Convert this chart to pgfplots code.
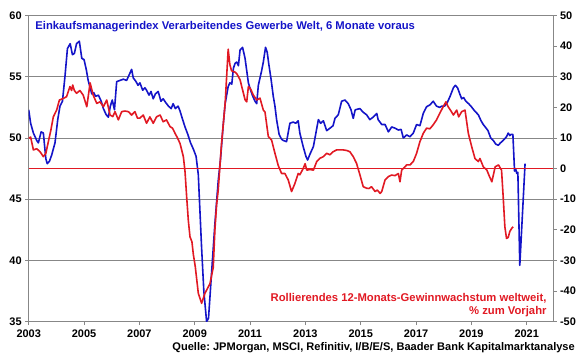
\documentclass[border=0pt]{standalone}
\usepackage{pgfplots}
\pgfplotsset{compat=1.18}
\usepackage{fontspec}
\setmainfont{Liberation Sans}
\frenchspacing
\definecolor{pmiblue}{RGB}{20,20,200}
\definecolor{epsred}{RGB}{225,25,35}
\definecolor{gridgray}{RGB}{135,135,135}
\begin{document}
\begin{tikzpicture}
\pgfplotsset{
  every axis/.append style={
    scale only axis, width=524.3bp, height=306.2bp,
    xmin=2003, xmax=2021.95,
    tick align=outside, major tick length=3.5bp,
    ticklabel style={font=\bfseries\fontsize{11}{13}\selectfont},
    /pgf/number format/assume math mode=true,
    /pgf/number format/1000 sep={},
    axis line style={gridgray, line width=0.8bp},
    tick style={gridgray, line width=0.8bp},
  }
}
\begin{axis}[
  ymin=35, ymax=60, ytick={35,40,...,60},
  xtick={2003,2005,...,2021},
  xtick pos=bottom, ytick pos=left,
  ymajorgrids, grid style={gridgray, line width=0.8bp},
  x axis line style={black!70},
  xticklabel style={yshift=-1.5bp},
]
\addplot[pmiblue, line width=1.6bp, line join=round, mark=none] coordinates {
(2003.00,52.3) (2003.07,51.2) (2003.17,50.4) (2003.29,49.8) (2003.35,49.6) (2003.45,50.5) (2003.53,50.4) (2003.62,48.3) (2003.67,47.9) (2003.75,48.1) (2003.83,48.6) (2003.95,49.6)
(2004.05,51.5) (2004.13,52.6) (2004.22,53.0) (2004.31,55.0) (2004.40,57.3) (2004.50,57.7) (2004.58,56.8) (2004.65,56.9) (2004.73,57.7) (2004.83,57.9) (2004.92,56.5)
(2005.00,56.4) (2005.08,55.6) (2005.15,54.7) (2005.28,53.6) (2005.35,53.7) (2005.42,53.4) (2005.52,53.5) (2005.62,53.0) (2005.70,52.4) (2005.80,51.9) (2005.88,51.7) (2005.95,52.6)
(2006.02,53.1) (2006.10,52.3) (2006.18,54.6) (2006.30,54.7) (2006.42,54.8) (2006.54,54.7) (2006.62,55.1) (2006.72,55.6) (2006.78,54.9) (2006.88,54.6) (2006.95,54.3)
(2007.02,54.5) (2007.12,53.9) (2007.20,54.1) (2007.26,53.9) (2007.35,53.5) (2007.42,53.8) (2007.50,53.2) (2007.58,53.6) (2007.68,53.8) (2007.78,53.0) (2007.86,53.2) (2007.95,52.9)
(2008.05,52.6) (2008.15,52.4) (2008.22,52.8) (2008.30,52.4) (2008.40,52.6) (2008.47,52.2) (2008.55,51.6) (2008.65,50.9) (2008.75,50.3) (2008.85,49.6) (2008.95,49.1)
(2009.05,48.5) (2009.13,47.0) (2009.25,41.0) (2009.33,37.5) (2009.43,35.0) (2009.50,35.3) (2009.61,39.0) (2009.73,43.0) (2009.85,46.5) (2009.93,48.2)
(2010.02,50.8) (2010.10,52.8) (2010.21,54.2) (2010.27,54.5) (2010.34,54.4) (2010.40,55.7) (2010.46,56.1) (2010.52,56.2) (2010.58,55.9) (2010.64,57.2) (2010.73,57.4) (2010.82,56.5) (2010.88,55.5) (2010.94,54.5)
(2011.02,53.9) (2011.10,53.4) (2011.18,53.0) (2011.24,52.8) (2011.30,54.3) (2011.42,55.5) (2011.48,56.2) (2011.56,57.4) (2011.62,57.0) (2011.68,56.0) (2011.76,54.8) (2011.84,53.4) (2011.90,52.6) (2011.96,51.5)
(2012.05,50.3) (2012.14,49.9) (2012.20,49.8) (2012.32,49.7) (2012.44,51.2) (2012.56,51.3) (2012.65,51.2) (2012.74,51.4) (2012.80,50.4) (2012.92,49.3)
(2013.02,48.5) (2013.08,48.2) (2013.17,48.7) (2013.29,49.3) (2013.38,50.4) (2013.47,51.5) (2013.55,51.2) (2013.65,51.4) (2013.77,50.6) (2013.89,50.8)
(2014.00,51.0) (2014.07,51.6) (2014.19,51.9) (2014.31,53.0) (2014.43,53.1) (2014.55,52.8) (2014.65,52.3) (2014.73,51.6) (2014.80,52.3) (2014.97,52.4)
(2015.09,52.1) (2015.21,51.9) (2015.33,51.5) (2015.45,51.7) (2015.58,52.0) (2015.63,51.5) (2015.76,51.1) (2015.88,51.1)
(2016.00,50.5) (2016.12,50.9) (2016.24,50.8) (2016.36,50.65) (2016.46,50.7) (2016.54,50.0) (2016.66,50.25) (2016.78,50.1) (2016.90,50.4)
(2017.02,51.1) (2017.14,51.0) (2017.26,52.0) (2017.38,52.55) (2017.50,52.7) (2017.62,53.0) (2017.74,52.6) (2017.85,52.5) (2017.93,52.6)
(2018.03,52.6) (2018.11,52.8) (2018.23,53.4) (2018.35,54.1) (2018.42,54.3) (2018.50,54.1) (2018.58,53.6) (2018.65,53.2) (2018.72,53.3) (2018.80,53.0) (2018.90,52.8)
(2019.00,52.55) (2019.12,52.2) (2019.25,51.9) (2019.35,51.4) (2019.43,51.1) (2019.50,50.9) (2019.60,50.6) (2019.70,50.0) (2019.79,49.8) (2019.88,49.5) (2019.97,49.4)
(2020.05,49.6) (2020.15,49.8) (2020.27,50.1) (2020.33,50.4) (2020.39,50.2) (2020.44,50.3) (2020.50,50.3) (2020.56,47.3) (2020.60,47.5) (2020.64,47.1) (2020.68,47.2) (2020.75,39.6) (2020.94,47.9)
};
\end{axis}
\begin{axis}[
  ymin=-50, ymax=50, ytick={-50,-40,...,50},
  axis x line=none, axis y line*=right,
  y axis line style={-},
]
\addplot[epsred, line width=1.6bp, mark=none] coordinates {(2003,0) (2021.95,0)};
\addplot[epsred, line width=1.6bp, line join=round, mark=none] coordinates {
(2003.00,9.9) (2003.07,10.3) (2003.17,6.1) (2003.29,6.5) (2003.41,5.5) (2003.53,3.9) (2003.62,5.0) (2003.71,8.8) (2003.80,12.5) (2003.89,16.9)
(2004.01,19.1) (2004.11,22.4) (2004.25,22.9) (2004.37,23.5) (2004.49,26.8) (2004.55,25.5) (2004.59,27.3) (2004.65,25.5) (2004.73,24.6) (2004.85,25.5) (2004.97,24.0)
(2005.10,20.2) (2005.22,28.0) (2005.33,24.0) (2005.46,21.3) (2005.58,21.8) (2005.70,20.2) (2005.82,22.4) (2005.94,17.5)
(2006.04,17.0) (2006.12,18.6) (2006.24,15.9) (2006.36,18.6) (2006.48,18.8) (2006.60,18.6) (2006.72,17.5) (2006.84,18.6) (2006.93,16.5)
(2007.02,16.5) (2007.14,17.5) (2007.26,14.8) (2007.38,16.9) (2007.50,14.8) (2007.62,16.9) (2007.75,17.5) (2007.86,15.3) (2007.98,15.9)
(2008.11,13.7) (2008.20,13.2) (2008.29,11.5) (2008.38,10.0) (2008.47,8.2) (2008.59,3.9) (2008.65,-1.0) (2008.71,-9.3) (2008.77,-17.0) (2008.83,-22.3) (2008.90,-23.9) (2008.95,-28.0)
(2009.02,-32.0) (2009.13,-40.7) (2009.25,-44.0) (2009.37,-40.7) (2009.47,-39.0) (2009.55,-37.6) (2009.67,-32.3) (2009.73,-20.0) (2009.79,-12.0) (2009.85,-7.0) (2009.97,8.2)
(2010.10,21.3) (2010.21,39.0) (2010.27,34.0) (2010.33,32.0) (2010.39,31.7) (2010.46,31.5) (2010.52,31.0) (2010.64,29.0) (2010.70,26.8) (2010.82,22.5) (2010.88,21.8) (2010.94,26.8)
(2011.02,26.0) (2011.12,24.0) (2011.24,22.4) (2011.36,23.0) (2011.48,19.1) (2011.54,18.5) (2011.66,10.5) (2011.78,9.3) (2011.90,5.0)
(2012.02,1.0) (2012.14,-1.6) (2012.26,-1.6) (2012.38,-3.7) (2012.50,-7.5) (2012.62,-4.9) (2012.74,-1.6) (2012.80,-2.0) (2012.92,0.0) (2012.99,1.6)
(2013.05,-0.5) (2013.17,-0.3) (2013.29,-0.5) (2013.41,2.3) (2013.53,3.4) (2013.65,3.9) (2013.77,5.0) (2013.89,4.5)
(2014.00,5.5) (2014.13,6.1) (2014.25,6.1) (2014.37,6.1) (2014.50,5.9) (2014.61,5.5) (2014.73,3.9) (2014.85,1.7) (2014.97,-2.0)
(2015.09,-5.9) (2015.21,-6.4) (2015.30,-6.5) (2015.39,-5.9) (2015.52,-7.5) (2015.60,-7.0) (2015.70,-8.1) (2015.76,-7.5) (2015.88,-3.7)
(2016.00,-2.6) (2016.12,-2.1) (2016.24,-2.3) (2016.36,-1.6) (2016.42,-4.3) (2016.48,-0.5) (2016.60,0.6) (2016.66,1.2) (2016.78,1.2) (2016.90,2.3)
(2017.02,5.0) (2017.14,8.8) (2017.26,11.5) (2017.38,13.2) (2017.50,13.0) (2017.62,14.3) (2017.74,15.9) (2017.86,18.1) (2017.98,20.2)
(2018.08,21.8) (2018.16,20.2) (2018.25,19.0) (2018.35,17.5) (2018.47,19.1) (2018.54,16.9) (2018.65,18.6) (2018.77,19.1) (2018.89,11.5)
(2019.01,7.2) (2019.13,3.3) (2019.25,2.3) (2019.31,3.3) (2019.43,0.6) (2019.56,-0.5) (2019.65,-2.5) (2019.74,-4.3) (2019.86,0.6) (2019.98,1.2)
(2020.09,-0.5) (2020.15,-9.3) (2020.21,-19.0) (2020.27,-22.8) (2020.33,-22.5) (2020.39,-20.5) (2020.46,-19.5) (2020.51,-19.0)
};
\end{axis}
\node[anchor=base west, text=pmiblue, inner sep=0, font=\bfseries\fontsize{11.3}{13}\selectfont] at (6.5bp,291.7bp) {Einkaufsmanagerindex Verarbeitendes Gewerbe Welt, 6 Monate voraus};
\node[anchor=base east, text=epsred, inner sep=0, font=\bfseries\fontsize{11.3}{13}\selectfont] at (518bp,20bp) {Rollierendes 12-Monats-Gewinnwachstum weltweit,};
\node[anchor=base east, text=epsred, inner sep=0, font=\bfseries\fontsize{11.3}{13}\selectfont] at (518bp,7.4bp) {\% zum Vorjahr};
\node[anchor=base east, text=black, inner sep=0, font=\bfseries\fontsize{11.1}{13}\selectfont] at (546.3bp,-28.3bp) {Quelle: JPMorgan, MSCI, Refinitiv, I/B/E/S, Baader Bank Kapitalmarktanalyse};
\pgfresetboundingbox
\path[use as bounding box] (-28.7bp,-37.3bp) rectangle (551.3bp,321.7bp);
\end{tikzpicture}
\end{document}
